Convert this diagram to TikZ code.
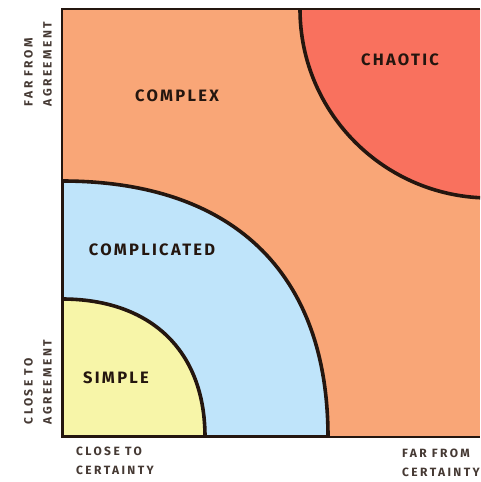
\documentclass[tikz,border=0pt]{standalone}
\usepackage{fontspec}
\setmainfont{Fira Sans}
\definecolor{bgorange}{HTML}{F9A677}
\definecolor{chaosred}{HTML}{F9715E}
\definecolor{complblue}{HTML}{BFE4FA}
\definecolor{simpyellow}{HTML}{F7F5A8}
\definecolor{ink}{HTML}{24160F}
\tikzset{
  region/.style={draw=ink, line width=3.6pt},
  frame/.style={draw=ink, line width=2.2pt},
  domainlab/.style={text=ink, font=\bfseries\fontsize{16.5}{16}\selectfont\addfontfeatures{LetterSpace=14}},
  axislab/.style={text=ink!85, font=\bfseries\fontsize{12}{19}\selectfont\addfontfeatures{LetterSpace=20}, align=left},
}
\begin{document}
\begin{tikzpicture}[x=1pt,y=-1pt]
\useasboundingbox (0,0) rectangle (480,482);
\fill[white] (0,0) rectangle (480,482);
\begin{scope}
\clip (62,9) rectangle (480,437);
\fill[bgorange] (62,9) rectangle (480,437);
\path[region, fill=chaosred] (490,9) ellipse [x radius=190, y radius=189];
\path[region, fill=complblue] (62,437) -- (62,181) .. controls (230,181) and (328,270) .. (328,437) -- cycle;
\path[region, fill=simpyellow] (62,437) -- (62,299) .. controls (150,299) and (205,350) .. (205,437) -- cycle;
\end{scope}
\draw[frame] (480,9) coordinate (tr) -- (62,9) coordinate (tl) -- (62,437) coordinate (bl) -- (480,437) coordinate (br);
\node[domainlab] (complex) at (177,96) {COMPLEX};
\node[domainlab] (chaotic) at (400,60) {CHAOTIC};
\node[domainlab] (complicated) at (152,250) {COMPLICATED};
\node[domainlab] (simple) at (116,378) {SIMPLE};
\node[axislab, rotate=90] (farag) at (38,64) {FAR FROM\\AGREEMENT};
\node[axislab, rotate=90] (closeag) at (38,382) {CLOSE TO\\AGREEMENT};
\node[axislab, anchor=north west, inner sep=0pt] (closecert) at (76,447) {CLOSE TO\\CERTAINTY};
\begin{scope}
\clip (0,0) rectangle (480,482);
\node[axislab, anchor=north west, inner sep=0pt] (farcert) at (402,449) {FAR FROM\\CERTAINTY};
\end{scope}
\end{tikzpicture}
\end{document}
